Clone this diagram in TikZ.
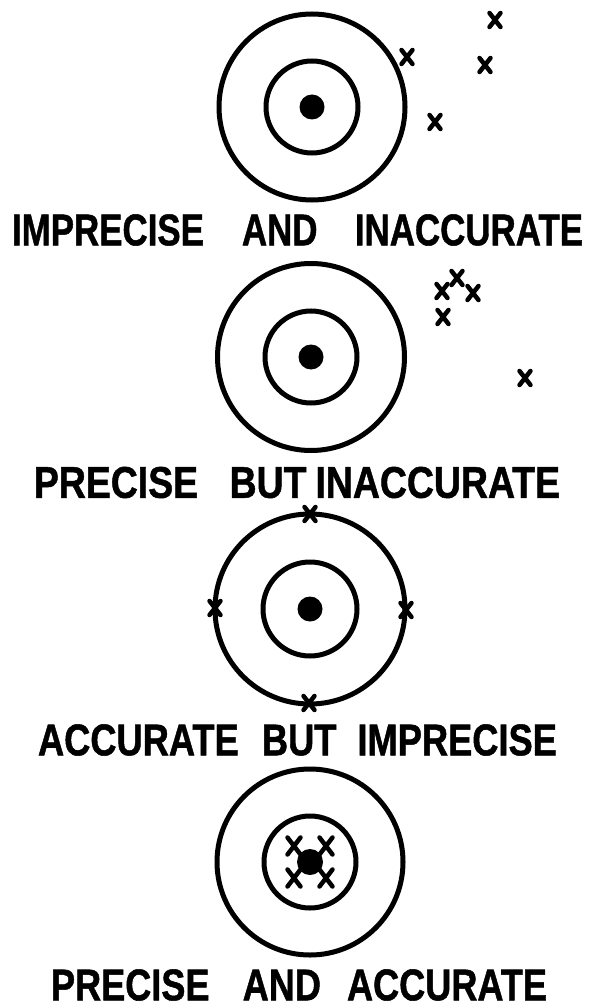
\documentclass[tikz,border=0pt]{standalone}
\usepackage{fontspec}
\setmainfont{Liberation Sans}
\newfontfamily\tagfont{Liberation Sans}[FakeBold=1.2]
\usetikzlibrary{positioning}
\newcommand{\tgtlabel}[2]{\resizebox{#1}{31pt}{\tagfont\bfseries #2}}
\tikzset{
  ring/.style={circle, draw=black, line width=5pt, inner sep=0pt},
  bull/.style={circle, fill=black, inner sep=0pt, minimum size=25pt},
  hitline/.style={draw=black, line width=4.5pt, line cap=round},
  tag/.style={inner sep=0pt, anchor=center}
}

\begin{document}
\begin{tikzpicture}[x=1pt, y=-1pt]
\useasboundingbox (0,0) rectangle (591,1008);
\node [ring, minimum size=186pt] (outerA) at (312,107) {};
\node [ring, minimum size=92pt] (innerA) at (312,107) {};
\node [bull] (bullA) at (312,107) {};
\coordinate (hitA1) at (407,57);
\coordinate (hitA2) at (495,20);
\coordinate (hitA3) at (485,65);
\coordinate (hitA4) at (435,122);
\node [tag] (tagA) at (297.5,230) {\tgtlabel{571pt}{IMPRECISE\hspace{1.09em}AND\hspace{1.07em}INACCURATE}};
\node [ring, minimum size=187pt] (outerB) at (311,357) {};
\node [ring, minimum size=92pt] (innerB) at (311,357) {};
\node [bull] (bullB) at (311,357) {};
\coordinate (hitB1) at (442,291);
\coordinate (hitB2) at (457,278);
\coordinate (hitB3) at (473,293);
\coordinate (hitB4) at (443,317);
\coordinate (hitB5) at (525,378);
\node [tag] (tagB) at (297,482.5) {\tgtlabel{526pt}{PRECISE\hspace{0.84em}BUT\hspace{0.24em}INACCURATE}};
\node [ring, minimum size=190pt] (outerC) at (310,609) {};
\node [ring, minimum size=94pt] (innerC) at (310,609) {};
\node [bull] (bullC) at (310,609) {};
\coordinate (hitC1) at (310,514);
\coordinate (hitC2) at (309,703);
\coordinate (hitC3) at (215,608);
\coordinate (hitC4) at (406,610);
\node [tag] (tagC) at (297.5,740) {\tgtlabel{519pt}{ACCURATE\hspace{0.64em}BUT\hspace{0.58em}IMPRECISE}};
\node [ring, minimum size=186pt] (outerD) at (310,862) {};
\node [ring, minimum size=92pt] (innerD) at (310,862) {};
\node [bull, minimum size=26pt] (bullD) at (310,862) {};
\coordinate (hitD1) at (294,846);
\coordinate (hitD2) at (326,846);
\coordinate (hitD3) at (294,878);
\coordinate (hitD4) at (326,878);
\node [tag] (tagD) at (299,985) {\tgtlabel{496pt}{PRECISE\hspace{0.92em}AND\hspace{0.72em}ACCURATE}};
\foreach \h in {hitA1,hitA2,hitA3,hitA4,hitB1,hitB2,hitB3,hitB4,hitB5,hitC1,hitC2,hitC3,hitC4}
  \draw [hitline] (\h) +(-5.5,-7) -- +(5.5,7) (\h) +(-5.5,7) -- +(5.5,-7);
\foreach \h in {hitD1,hitD2,hitD3,hitD4}
  \draw [hitline] (\h) +(-6.5,-8.5) -- +(6.5,8.5) (\h) +(-6.5,8.5) -- +(6.5,-8.5);
\end{tikzpicture}
\end{document}
